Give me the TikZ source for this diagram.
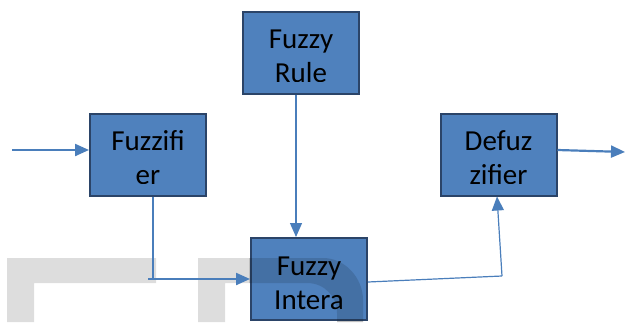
\documentclass[tikz,border=0pt]{standalone}
\usepackage{fontspec}
\setmainfont{Carlito}
\usetikzlibrary{arrows.meta}
\definecolor{boxblue}{HTML}{4F81BD}
\definecolor{boxedge}{HTML}{2B4468}
\definecolor{linkblue}{HTML}{4A7EBB}
\definecolor{wm}{HTML}{DDDDDD}
\begin{document}
\begin{tikzpicture}[x=1pt,y=-1pt,
  block/.style={draw=boxedge, line width=2pt, fill=boxblue, minimum width=116pt, minimum height=82pt, inner sep=0pt},
  boxtext/.style={anchor=base, font=\fontsize{29}{34}\selectfont, inner sep=0pt},
  thicklink/.style={draw=linkblue, line width=2.2pt},
  thinlink/.style={draw=linkblue, line width=1.2pt},
  tipped/.style={-{Triangle[length=14pt,width=12pt]}}
]
\useasboundingbox (0,0) rectangle (629,322);
% watermark
\fill[wm] (7,258) -- (156,258) -- (156,283) -- (34,283) -- (34,322) -- (7,322) -- cycle;
\fill[wm] (198,322) -- (198,258) -- (323,258) .. controls (345,258) and (363,278) .. (363,300) -- (363,322) -- (337,322) -- (337,313) .. controls (337,296) and (324,283) .. (307,283) -- (225,283) -- (225,322) -- cycle;
% boxes
\node[block] (fr) at (301,52.5) {};
\node[block] (fz) at (148,154.5) {};
\node[block] (fi) at (309,279) {};
\node[block] (df) at (498.5,154.5) {};
% watermark over the box
\begin{scope}
  \clip ([xshift=-1pt,yshift=1pt]fi.north west) rectangle ([xshift=1pt,yshift=-1pt]fi.south east);
  \fill[black, opacity=0.13] (198,322) -- (198,258) -- (323,258) .. controls (345,258) and (363,278) .. (363,300) -- (363,322) -- (337,322) -- (337,313) .. controls (337,296) and (324,283) .. (307,283) -- (225,283) -- (225,322) -- cycle;
\end{scope}
% texts, clipped like the reference
\begin{scope}
  \clip (fr.north west) rectangle ([yshift=13pt]fr.south east);
  \node[boxtext] (frt1) at ([yshift=-38pt]fr.north) {Fuzzy};
  \node[boxtext] (frt2) at ([yshift=-72pt]fr.north) {Rule};
\end{scope}
\begin{scope}
  \clip (fz.north west) rectangle ([yshift=13pt]fz.south east);
  \node[boxtext] (fzt1) at ([yshift=-38pt]fz.north) {Fuzzifi};
  \node[boxtext] (fzt2) at ([yshift=-72pt]fz.north) {er};
\end{scope}
\begin{scope}
  \clip (fi.north west) rectangle ([yshift=11pt]fi.south east);
  \node[boxtext] (fit1) at ([yshift=-38pt]fi.north) {Fuzzy};
  \node[boxtext] (fit2) at ([yshift=-72pt]fi.north) {Intera};
\end{scope}
\begin{scope}
  \clip (df.north west) rectangle ([yshift=13pt]df.south east);
  \node[boxtext] (dft1) at ([yshift=-38pt]df.north) {Defuz};
  \node[boxtext] (dft2) at ([yshift=-72pt]df.north) {zifier};
\end{scope}
% connectors
\coordinate (in) at (12,150);
\coordinate (rx) at (296,0);
\coordinate (c1) at (153,279);
\coordinate (c1s) at (148,279);
\coordinate (c2) at (502,276);
\coordinate (c2t) at (497,0);
\coordinate (out) at (625,152);
\draw[thicklink, tipped] (in) -- (in -| fz.west);
\draw[thinlink, tipped] (rx |- fr.south) -- (rx |- fi.north);
\draw[thinlink] (c1 |- fz.south) -- (c1);
\draw[thicklink, tipped] (c1s) -- (c1s -| fi.west);
\draw[thinlink] ([yshift=-3pt]fi.east) -- (c2);
\draw[thinlink, tipped] (c2) -- (c2t |- df.south);
\draw[thicklink, tipped] ([yshift=4.5pt]df.east) -- (out);
\end{tikzpicture}
\end{document}
